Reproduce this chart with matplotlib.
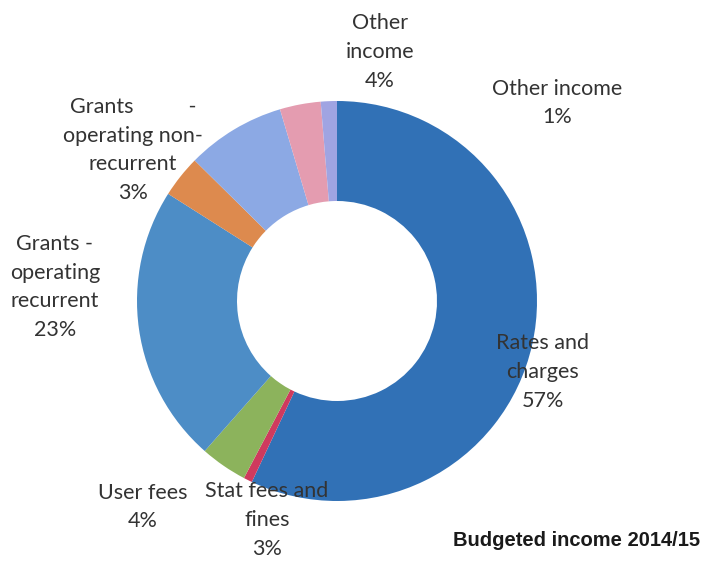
import matplotlib
matplotlib.use("Agg")
import matplotlib.pyplot as plt

slices = ["Rates and charges", "Stat fees and fines", "User fees",
          "Grants - operating recurrent", "Grants - operating non-recurrent",
          "Grants - capital", "Other income", "Other income (2)"]
values = [57.0, 0.7, 3.8, 22.5, 3.4, 8.0, 3.3, 1.3]
colors = ["#3171b6", "#cf3a5e", "#8cb35c", "#4d8dc6", "#dd8a4e",
          "#8ca9e4", "#e49cb0", "#a0a4e2"]

# data labels as printed on the chart
label_text = ["Rates and\ncharges\n57%", "Stat fees and\nfines\n3%", "User fees\n4%",
              "Grants -\noperating\nrecurrent\n23%",
              "Grants          -\noperating non-\nrecurrent\n3%",
              "Other\nincome\n4%", "Other income\n1%"]
label_px = [(543, 372), (267, 520), (143, 507), (55, 287), (133, 150),
            (380, 52), (557, 103)]

TITLE = "Budgeted income 2014/15"

W, H = 703, 561
CX, CY, R = 337, 301, 200


def to_data(px, py):
    return (px - CX) / R, (CY - py) / R


fig = plt.figure(figsize=(W / 100, H / 100), dpi=100)
ax = fig.add_axes([0, 0, 1, 1])
ax.pie(values, colors=colors, startangle=90, counterclock=False, radius=1,
       wedgeprops=dict(width=0.5, edgecolor="none"))
ax.set_xlim(-CX / R, (W - CX) / R)
ax.set_ylim(-(H - CY) / R, CY / R)
ax.set_aspect("equal")
ax.axis("off")

for txt, (px, py) in zip(label_text, label_px):
    x, y = to_data(px, py)
    ax.text(x, y, txt, ha="center", va="center", fontsize=15.5,
            family=["Lato", "DejaVu Sans"], color="#333333", linespacing=1.55)

tx, ty = to_data(700, 540)
ax.text(tx, ty, TITLE, ha="right", va="center", fontsize=14.5, fontweight="bold",
        family=["Liberation Sans Narrow", "Liberation Sans", "DejaVu Sans"],
        color="#1a1a1a")

fig.savefig("out.png", dpi=100, facecolor="white")
